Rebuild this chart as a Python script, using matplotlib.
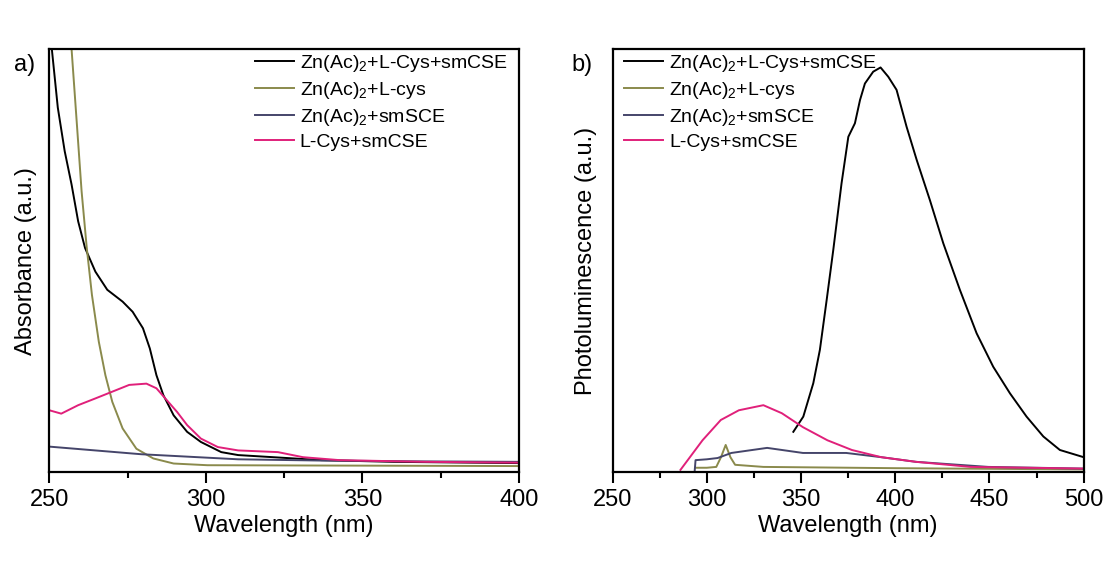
import matplotlib.pyplot as plt
from matplotlib.ticker import MultipleLocator

plt.rcParams['font.family'] = ['Liberation Sans', 'DejaVu Sans']

# colours of the four samples
c_all = 'black'
c_zn_cys = '#8a8a4c'
c_zn_cse = '#45456a'
c_cys_cse = '#e0207a'

labels = [r'Zn(Ac)$_\mathregular{2}$+L-Cys+smCSE',
          r'Zn(Ac)$_\mathregular{2}$+L-cys',
          r'Zn(Ac)$_\mathregular{2}$+smSCE',
          'L-Cys+smCSE']

# a) absorbance (normalised to panel height)
abs_all_x = [250, 250.8, 252.7, 254.9, 257.1, 259.2, 261.4, 264.7, 268.5, 273.4, 276.6, 279.9, 282.1,
             284.2, 286.4, 289.7, 294.0, 298.4, 304.9, 310.3, 337, 360, 400]
abs_all_y = [1.05, 1.0, 0.862, 0.759, 0.680, 0.593, 0.530, 0.474, 0.431, 0.403, 0.379, 0.340, 0.292,
             0.229, 0.182, 0.134, 0.095, 0.071, 0.047, 0.040, 0.028, 0.024, 0.021]

abs_zncys_x = [255.8, 257.1, 258.8, 260.3, 261.95, 263.6, 265.8, 267.9, 270.1, 273.4, 277.8, 283.2,
               289.7, 300.5, 350, 400]
abs_zncys_y = [1.15, 1.0, 0.822, 0.664, 0.530, 0.419, 0.308, 0.229, 0.166, 0.103, 0.055, 0.032,
               0.020, 0.016, 0.015, 0.014]

abs_zncse_x = [250, 279.3, 310.3, 337, 370, 400]
abs_zncse_y = [0.060, 0.042, 0.030, 0.027, 0.025, 0.024]

abs_cyscse_x = [250, 253.8, 259.2, 264.7, 270.1, 275.5, 281, 284.2, 287.5, 290.8, 294, 298.4, 303.8,
                310.3, 323, 331, 342.7, 370, 400]
abs_cyscse_y = [0.146, 0.138, 0.158, 0.174, 0.190, 0.206, 0.209, 0.198, 0.170, 0.142, 0.111, 0.079,
                0.059, 0.051, 0.047, 0.035, 0.028, 0.024, 0.022]

# b) photoluminescence (normalised to panel height)
pl_all_x = [345.9, 351.2, 356.5, 360, 363.6, 367.1, 371.5, 375.1, 378.6, 381.3, 383.9, 388.3, 392.2,
            396.3, 400.7, 406, 411.4, 418.4, 425.5, 434.3, 443.2, 452, 460.9, 469.7, 478.6, 487.4, 500]
pl_all_y = [0.095, 0.131, 0.210, 0.289, 0.407, 0.525, 0.683, 0.793, 0.825, 0.880, 0.919, 0.947, 0.957,
            0.935, 0.904, 0.817, 0.738, 0.643, 0.541, 0.431, 0.328, 0.249, 0.186, 0.131, 0.084, 0.052,
            0.035]

pl_zncys_x = [293.8, 300, 305, 307.5, 310, 312.5, 315, 330, 400, 500]
pl_zncys_y = [0.01, 0.01, 0.012, 0.035, 0.064, 0.035, 0.017, 0.012, 0.009, 0.006]

pl_zncse_x = [293.5, 294, 300, 305.7, 313, 332, 351, 374, 392.6, 411, 449.4, 500]
pl_zncse_y = [0.0, 0.028, 0.03, 0.033, 0.045, 0.057, 0.045, 0.045, 0.035, 0.024, 0.012, 0.008]

pl_cyscse_x = [286, 297.7, 307.4, 317, 330, 339.8, 351, 364, 377, 392.6, 411, 440, 500]
pl_cyscse_y = [0.005, 0.075, 0.123, 0.146, 0.158, 0.139, 0.106, 0.075, 0.052, 0.035, 0.024, 0.012, 0.008]

fig = plt.figure(figsize=(11.19, 5.73), dpi=100)
ax1 = fig.add_axes([0.0441, 0.1763, 0.4197, 0.7377])
ax2 = fig.add_axes([0.5475, 0.1763, 0.4209, 0.7377])

lw = 1.4
ax1.plot(abs_all_x, abs_all_y, color=c_all, lw=lw, label=labels[0])
ax1.plot(abs_zncys_x, abs_zncys_y, color=c_zn_cys, lw=lw, label=labels[1])
ax1.plot(abs_zncse_x, abs_zncse_y, color=c_zn_cse, lw=lw, label=labels[2])
ax1.plot(abs_cyscse_x, abs_cyscse_y, color=c_cys_cse, lw=lw, label=labels[3])

ax2.plot(pl_all_x, pl_all_y, color=c_all, lw=lw, label=labels[0])
ax2.plot(pl_zncys_x, pl_zncys_y, color=c_zn_cys, lw=lw, label=labels[1])
ax2.plot(pl_zncse_x, pl_zncse_y, color=c_zn_cse, lw=lw, label=labels[2])
ax2.plot(pl_cyscse_x, pl_cyscse_y, color=c_cys_cse, lw=lw, label=labels[3])

ax1.set_xlim(250, 400)
ax2.set_xlim(250, 500)
for ax in (ax1, ax2):
    ax.set_ylim(0, 1)
    ax.set_yticks([])
    ax.xaxis.set_major_locator(MultipleLocator(50))
    ax.xaxis.set_minor_locator(MultipleLocator(25))
    ax.tick_params(axis='x', which='major', direction='out', length=8, width=1.5, labelsize=17, pad=4)
    ax.tick_params(axis='x', which='minor', direction='out', length=4.5, width=1.5)
    for s in ax.spines.values():
        s.set_linewidth(1.6)
    ax.set_xlabel('Wavelength (nm)', fontsize=17, labelpad=3)

ax1.set_ylabel('Absorbance (a.u.)', fontsize=17, labelpad=9)
ax2.set_ylabel('Photoluminescence (a.u.)', fontsize=17, labelpad=11)

ax1.legend(loc='upper right', frameon=False, fontsize=14, handlelength=2.0, handletextpad=0.3,
           labelspacing=0.3, borderaxespad=0.2, bbox_to_anchor=(1.0, 1.019))
ax2.legend(loc='upper left', frameon=False, fontsize=14, handlelength=2.0, handletextpad=0.3,
           labelspacing=0.3, borderaxespad=0.2, bbox_to_anchor=(0.0, 1.019))

fig.text(0.0223, 0.887, 'a)', fontsize=17, ha='center', va='center')
fig.text(0.520, 0.887, 'b)', fontsize=17, ha='center', va='center')

fig.savefig('out.png', dpi=100)
